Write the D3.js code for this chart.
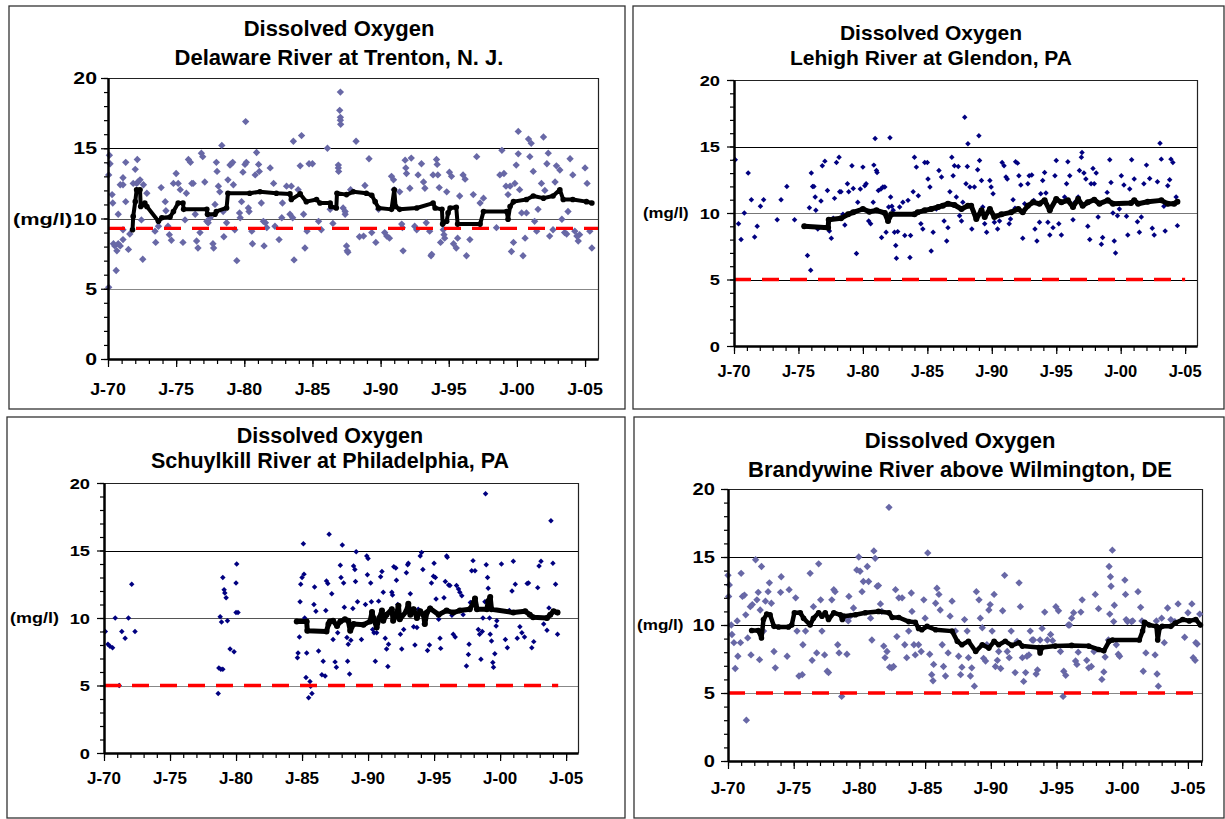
<!DOCTYPE html>
<html>
<head>
<meta charset="utf-8">
<script src="https://cdn.jsdelivr.net/npm/d3@7"></script>
<style>
  body { margin: 0; background: #fff; }
  svg { display: block; }
  text { font-family: "Liberation Sans", Arial, sans-serif; font-weight: bold; fill: #000; }
</style>
</head>
<body>
<svg width="1225" height="819"></svg>
<script>
// values: [decimal year, mg/l]
const trentonPts = [[1970.1,14.5],[1970.15,13.9],[1970.05,13.1],[1970.3,11.7],[1970.35,11.1],[1970.75,10.3],[1970.4,8.2],[1970.5,8.05],[1970.65,7.7],[1970.75,8.2],[1970.9,8.05],[1970.6,6.3],[1970.05,5.1],[1971.1,8.5],[1971.1,9.2],[1970.9,12.4],[1971.1,12.4],[1971.1,12.9],[1971.3,14.0],[1971.3,11.2],[1971.5,7.8],[1971.6,8.9],[1971.85,12.5],[1972.0,13.5],[1972.1,12.5],[1972.15,14.2],[1972.2,12.6],[1972.35,12.75],[1972.45,9.9],[1972.6,12.4],[1972.55,7.1],[1972.85,11.8],[1973.45,9.1],[1973.5,8.3],[1973.7,9.45],[1973.9,12.2],[1974.2,11.2],[1974.25,10.55],[1974.4,9.45],[1974.5,8.85],[1974.65,8.45],[1974.8,12.5],[1975.0,13.2],[1975.15,12.5],[1975.3,12.05],[1975.5,8.3],[1975.65,9.9],[1975.75,11.8],[1975.9,14.2],[1976.05,14.0],[1976.15,12.5],[1976.25,12.5],[1976.4,10.3],[1976.5,8.4],[1976.6,7.9],[1976.75,9.0],[1976.85,14.65],[1976.95,14.4],[1977.1,12.6],[1977.25,9.8],[1977.35,9.7],[1977.5,10.05],[1977.7,8.2],[1977.75,7.9],[1977.85,11.0],[1977.95,14.0],[1978.0,13.35],[1978.1,12.3],[1978.2,11.9],[1978.35,15.2],[1978.45,10.5],[1978.5,8.7],[1978.7,9.7],[1978.8,12.75],[1978.95,13.8],[1979.05,13.9],[1979.15,14.0],[1979.2,12.4],[1979.3,9.2],[1979.45,7.0],[1979.65,10.4],[1979.7,10.05],[1979.8,11.2],[1979.9,13.3],[1980.05,13.85],[1980.15,14.0],[1980.1,16.9],[1980.3,10.75],[1980.35,10.5],[1980.55,9.1],[1980.6,8.2],[1980.8,13.1],[1980.9,14.7],[1981.05,13.85],[1981.1,13.35],[1981.25,11.1],[1981.4,9.8],[1981.45,8.05],[1981.55,9.7],[1981.65,9.35],[1981.9,13.6],[1982.15,12.5],[1982.25,9.45],[1982.55,8.5],[1982.75,10.05],[1982.8,11.1],[1983.1,12.3],[1983.35,10.3],[1983.45,12.3],[1983.55,10.05],[1983.6,15.5],[1983.65,7.05],[1983.95,12.05],[1984.1,13.75],[1984.2,15.9],[1984.35,10.3],[1984.45,7.9],[1984.6,9.1],[1984.75,13.9],[1985.0,13.9],[1985.45,9.8],[1985.65,9.2],[1986.1,15.0],[1986.3,10.65],[1986.5,9.65],[1986.9,13.8],[1986.9,13.6],[1986.92,13.35],[1987.0,17.7],[1987.05,17.2],[1987.05,17.0],[1987.05,19.0],[1987.07,16.7],[1987.25,10.75],[1987.4,10.5],[1987.4,10.3],[1987.5,8.05],[1987.55,7.7],[1987.6,7.6],[1987.8,12.05],[1988.2,15.5],[1988.45,8.7],[1988.75,8.75],[1988.85,12.35],[1989.15,14.25],[1989.35,9.0],[1989.65,8.3],[1989.85,10.65],[1990.3,9.0],[1990.45,8.75],[1990.65,8.6],[1990.8,13.0],[1990.95,12.75],[1991.0,12.05],[1991.4,11.9],[1991.55,9.6],[1991.6,9.35],[1991.65,7.7],[1991.8,14.15],[1991.85,13.6],[1991.9,13.2],[1992.15,12.15],[1992.25,14.3],[1992.5,9.45],[1992.65,9.2],[1992.75,13.1],[1993.0,13.9],[1993.15,12.6],[1993.25,12.15],[1993.35,9.7],[1993.6,9.1],[1993.7,7.35],[1993.75,7.45],[1993.85,13.1],[1994.1,14.2],[1994.15,13.85],[1994.2,13.1],[1994.3,12.2],[1994.4,8.3],[1994.6,9.2],[1994.65,8.85],[1994.7,8.6],[1994.85,11.9],[1995.05,13.3],[1995.2,13.0],[1995.35,8.2],[1995.55,7.9],[1995.65,8.6],[1995.8,11.6],[1996.05,13.1],[1996.2,12.8],[1996.3,7.35],[1996.55,8.5],[1996.8,11.7],[1997.05,14.4],[1997.3,11.1],[1997.55,11.45],[1998.5,9.35],[1998.75,13.1],[1998.9,14.85],[1999.05,13.2],[1999.2,12.3],[1999.35,11.7],[1999.5,12.3],[1999.6,7.65],[1999.75,8.3],[1999.85,12.5],[1999.95,13.8],[2000.1,14.6],[2000.1,16.2],[2000.2,12.05],[2000.35,10.4],[2000.45,7.35],[2000.6,8.6],[2000.7,10.4],[2000.85,15.65],[2000.95,14.4],[2001.05,15.35],[2001.2,13.35],[2001.3,9.8],[2001.45,9.1],[2001.55,10.65],[2001.8,12.5],[2001.95,15.8],[2002.05,12.0],[2002.2,13.9],[2002.3,14.65],[2002.4,8.75],[2002.65,9.2],[2002.8,12.6],[2002.9,13.75],[2003.15,13.45],[2003.3,9.95],[2003.5,9.0],[2003.65,8.9],[2003.75,10.5],[2003.9,14.25],[2004.1,13.1],[2004.25,9.1],[2004.4,8.75],[2004.5,8.4],[2004.6,8.85],[2005.0,13.6],[2005.15,12.5],[2005.35,9.1],[2005.5,7.9]];

const trentonTrend = [[1971.8,9.2],[1971.85,10.15],[1972.0,11.2],[1972.1,12.05],[1972.35,12.05],[1972.4,10.85],[1972.55,11.0],[1972.7,11.1],[1972.85,10.85],[1973.7,9.8],[1973.95,10.05],[1974.55,10.1],[1974.8,10.5],[1975.15,11.1],[1975.5,11.1],[1975.55,10.65],[1977.25,10.65],[1977.3,10.3],[1977.85,10.3],[1977.95,10.5],[1978.7,10.75],[1978.8,11.8],[1980.4,11.8],[1981.15,11.9],[1982.35,11.8],[1983.35,11.75],[1983.45,11.35],[1984.1,11.75],[1984.55,11.2],[1985.3,11.35],[1985.55,11.1],[1986.3,11.1],[1986.35,10.85],[1986.75,10.75],[1986.8,11.8],[1987.5,11.7],[1988.0,11.9],[1988.95,11.8],[1989.35,11.65],[1989.6,11.2],[1989.85,10.75],[1990.8,10.65],[1991.0,12.05],[1991.1,10.85],[1991.4,10.65],[1992.65,10.75],[1993.85,11.1],[1994.0,10.75],[1994.5,10.65],[1994.55,9.6],[1994.85,9.8],[1994.95,10.4],[1995.1,10.75],[1995.55,10.8],[1995.65,9.6],[1997.3,9.6],[1997.55,10.5],[1999.25,10.5],[1999.35,9.95],[1999.5,10.85],[1999.75,11.2],[2000.7,11.35],[2001.2,11.6],[2001.95,11.45],[2002.65,11.6],[2003.15,12.05],[2003.4,11.35],[2004.1,11.35],[2005.1,11.2],[2005.5,11.1]];

const lehighPts = [[1970.1,14.0],[1970.35,9.2],[1970.55,8.0],[1970.8,10.0],[1971.1,13.0],[1971.35,11.0],[1971.6,8.2],[1971.8,9.0],[1972.05,10.5],[1972.3,11.0],[1973.35,9.5],[1973.65,11.0],[1974.1,12.0],[1974.7,9.5],[1975.7,6.8],[1975.85,10.4],[1975.95,5.7],[1976.0,13.0],[1976.1,12.0],[1976.2,12.0],[1976.3,11.2],[1976.35,10.2],[1976.5,8.8],[1976.75,10.9],[1976.85,13.55],[1977.05,13.9],[1977.25,11.7],[1977.4,8.65],[1977.55,8.1],[1977.7,9.6],[1977.8,11.1],[1977.95,13.8],[1978.15,14.2],[1978.2,11.6],[1978.3,11.6],[1978.45,9.9],[1978.6,9.1],[1978.8,12.2],[1978.9,11.6],[1979.15,13.55],[1979.25,11.85],[1979.5,6.95],[1979.6,10.8],[1979.8,11.8],[1980.0,13.45],[1980.15,12.05],[1980.25,12.2],[1980.45,9.4],[1980.6,9.2],[1980.8,10.8],[1980.85,13.6],[1980.95,15.6],[1981.05,13.2],[1981.1,13.05],[1981.2,11.7],[1981.4,11.8],[1981.45,8.15],[1981.55,11.95],[1981.7,11.95],[1981.8,8.55],[1982.0,10.45],[1982.1,15.65],[1982.15,11.2],[1982.25,10.5],[1982.35,10.2],[1982.45,8.55],[1982.55,7.55],[1982.6,6.6],[1982.7,8.6],[1982.85,10.45],[1983.1,10.8],[1983.25,8.3],[1983.5,10.95],[1983.65,6.65],[1983.7,8.3],[1983.9,11.6],[1984.0,14.2],[1984.15,13.45],[1984.3,11.3],[1984.5,9.2],[1984.65,8.8],[1984.8,13.8],[1985.0,13.8],[1985.05,12.55],[1985.2,11.95],[1985.3,7.15],[1985.45,8.55],[1985.7,10.3],[1985.9,13.2],[1986.1,12.7],[1986.3,9.4],[1986.5,7.9],[1986.6,8.9],[1986.75,11.6],[1986.9,14.2],[1987.0,12.8],[1987.1,13.55],[1987.25,11.2],[1987.4,13.5],[1987.5,9.8],[1987.65,9.4],[1987.75,10.8],[1987.9,17.2],[1988.0,12.2],[1988.1,13.5],[1988.15,15.2],[1988.3,11.95],[1988.45,8.8],[1988.65,11.95],[1988.9,13.25],[1989.0,15.8],[1989.05,13.95],[1989.2,12.45],[1989.3,10.45],[1989.45,9.2],[1989.6,8.55],[1989.85,12.45],[1989.95,11.95],[1990.1,11.45],[1990.2,9.3],[1990.45,8.8],[1990.6,9.4],[1990.8,13.8],[1990.95,13.55],[1991.1,12.7],[1991.2,12.55],[1991.35,9.2],[1991.45,9.55],[1991.65,11.0],[1991.8,10.35],[1991.85,13.85],[1992.0,13.75],[1992.1,12.8],[1992.25,12.1],[1992.4,8.1],[1992.55,10.7],[1992.8,12.2],[1992.9,12.8],[1993.1,12.85],[1993.25,10.95],[1993.35,8.8],[1993.5,7.9],[1993.7,9.3],[1993.8,11.45],[1993.95,12.45],[1994.1,13.05],[1994.2,11.5],[1994.35,9.3],[1994.5,8.35],[1994.75,8.9],[1994.9,12.8],[1995.0,13.95],[1995.2,9.2],[1995.4,8.35],[1995.65,11.2],[1995.8,12.2],[1995.9,13.85],[1996.05,12.8],[1996.3,9.5],[1996.45,10.8],[1996.7,11.2],[1996.8,13.2],[1996.95,14.2],[1997.0,14.55],[1997.15,13.0],[1997.3,12.55],[1997.45,9.0],[1997.6,8.0],[1997.7,12.2],[1997.85,13.35],[1997.95,12.2],[1998.1,13.0],[1998.25,9.7],[1998.5,7.65],[1998.6,8.15],[1998.95,11.55],[1999.15,14.0],[1999.25,12.3],[1999.4,10.0],[1999.5,7.9],[1999.6,7.0],[1999.75,9.8],[1999.9,10.3],[2000.05,12.8],[2000.25,12.1],[2000.45,9.75],[2000.55,8.35],[2000.7,11.8],[2000.85,14.0],[2001.05,12.55],[2001.3,9.35],[2001.45,8.55],[2001.6,9.7],[2001.8,12.2],[2002.0,13.6],[2002.25,12.6],[2002.45,8.85],[2002.6,8.35],[2002.85,12.35],[2003.05,15.25],[2003.15,14.05],[2003.35,10.5],[2003.45,8.65],[2003.65,12.05],[2003.8,12.5],[2003.9,14.05],[2004.05,13.8],[2004.3,11.2],[2004.4,9.05]];

const lehighTrend = [[1975.45,9.0],[1977.3,8.9],[1977.35,9.5],[1978.3,9.6],[1978.85,9.9],[1979.25,10.05],[1980.0,10.3],[1980.5,10.1],[1981.05,10.2],[1981.7,10.0],[1981.95,9.4],[1982.2,9.9],[1984.0,9.9],[1984.25,10.05],[1984.8,10.2],[1985.3,10.3],[1985.85,10.45],[1986.2,10.55],[1986.6,10.7],[1987.1,10.6],[1987.65,10.3],[1988.15,10.55],[1988.4,10.55],[1988.8,9.55],[1989.2,10.2],[1989.45,9.7],[1989.85,10.3],[1990.2,9.7],[1990.75,9.9],[1991.5,10.05],[1992.05,10.3],[1992.4,10.05],[1992.8,10.55],[1993.2,10.8],[1993.7,10.7],[1994.1,10.95],[1994.5,10.2],[1995.0,11.05],[1995.4,10.8],[1995.9,10.95],[1996.3,10.45],[1996.7,11.05],[1997.05,10.55],[1997.45,10.8],[1997.95,11.0],[1998.35,10.7],[1999.0,10.95],[1999.4,10.7],[2000.8,10.75],[2001.05,10.95],[2001.35,10.7],[2002.1,10.85],[2003.15,10.95],[2003.65,10.7],[2004.15,10.7],[2004.4,10.85]];

const schuylkillPts = [[1970.1,9.0],[1970.3,8.05],[1970.45,7.9],[1970.65,7.8],[1970.85,10.0],[1971.15,5.0],[1971.35,9.0],[1971.6,8.5],[1971.85,10.0],[1972.1,12.5],[1972.35,9.0],[1978.65,4.4],[1978.7,6.3],[1978.85,6.2],[1979.0,6.2],[1978.8,10.1],[1978.9,9.7],[1979.0,13.0],[1979.1,12.1],[1979.15,11.85],[1979.25,11.5],[1979.35,9.8],[1979.55,7.7],[1979.85,7.5],[1980.0,12.6],[1980.05,14.0],[1980.0,10.4],[1980.15,10.4],[1984.65,7.05],[1984.7,7.4],[1984.8,8.6],[1984.85,11.2],[1984.9,12.5],[1985.0,13.0],[1985.1,15.5],[1985.15,13.25],[1985.2,10.0],[1985.3,5.6],[1985.35,7.4],[1985.5,4.1],[1985.6,5.3],[1985.65,4.95],[1985.75,4.4],[1985.95,12.3],[1985.9,11.0],[1986.05,10.5],[1986.25,7.55],[1986.5,5.8],[1986.6,6.8],[1986.75,5.7],[1986.8,10.55],[1986.85,12.75],[1986.95,12.55],[1987.05,16.2],[1987.25,11.8],[1987.35,8.4],[1987.5,6.75],[1987.6,6.35],[1987.7,8.9],[1987.9,13.9],[1987.95,13.0],[1988.05,15.4],[1988.15,12.6],[1988.2,10.8],[1988.4,8.55],[1988.45,6.8],[1988.5,8.05],[1988.6,5.85],[1988.7,8.35],[1988.85,10.7],[1988.9,13.85],[1989.0,13.6],[1989.05,12.7],[1989.1,14.9],[1989.2,11.2],[1989.5,8.4],[1989.8,11.0],[1989.9,14.6],[1990.0,14.4],[1989.95,13.2],[1990.2,12.6],[1990.25,11.2],[1990.35,9.15],[1990.45,8.9],[1990.55,6.8],[1990.65,8.9],[1990.8,11.25],[1990.95,13.05],[1991.05,13.45],[1991.15,11.9],[1991.3,8.5],[1991.4,7.7],[1991.5,6.4],[1991.55,8.05],[1991.8,11.9],[1991.85,11.7],[1991.95,13.8],[1992.1,13.7],[1992.15,12.8],[1992.25,11.0],[1992.45,8.8],[1992.55,7.7],[1992.7,9.15],[1992.9,13.35],[1993.0,13.95],[1993.05,14.05],[1993.2,11.8],[1993.45,9.35],[1993.55,8.0],[1993.7,9.3],[1993.8,10.65],[1993.95,14.6],[1994.05,14.85],[1994.15,13.6],[1994.25,9.55],[1994.5,7.6],[1994.65,8.0],[1994.7,10.75],[1994.8,12.6],[1994.95,13.1],[1995.0,14.05],[1995.1,13.0],[1995.15,11.4],[1995.35,9.9],[1995.45,8.5],[1995.5,7.75],[1995.75,11.5],[1995.85,12.7],[1995.95,14.6],[1996.0,14.5],[1996.1,12.45],[1996.2,12.4],[1996.35,10.2],[1996.45,8.8],[1996.6,8.6],[1996.7,12.4],[1996.85,12.15],[1996.95,11.9],[1997.1,11.65],[1997.2,10.25],[1997.45,6.45],[1997.6,7.3],[1997.65,8.05],[1997.75,11.15],[1997.85,13.5],[1997.95,14.25],[1998.1,13.5],[1998.15,11.0],[1998.35,9.15],[1998.45,8.8],[1998.55,6.95],[1998.65,9.0],[1998.7,10.0],[1998.85,11.2],[1998.9,19.2],[1998.95,13.95],[1999.05,13.0],[1999.1,12.2],[1999.2,10.0],[1999.25,8.8],[1999.35,8.3],[1999.45,6.7],[1999.5,6.35],[1999.6,7.35],[1999.7,9.4],[1999.75,9.8],[2000.1,14.0],[2000.4,8.4],[2000.55,7.8],[2000.7,10.55],[2000.9,12.0],[2001.0,14.2],[2001.15,12.5],[2001.3,8.5],[2001.5,9.35],[2001.65,8.9],[2001.85,8.6],[2002.05,12.55],[2002.15,12.6],[2002.4,7.8],[2002.55,8.25],[2002.85,12.25],[2002.95,13.85],[2003.1,14.2],[2003.3,9.55],[2003.55,9.1],[2003.7,10.75],[2003.85,17.2],[2004.0,14.05],[2004.2,12.5],[2004.35,8.8]];

const schuylkillTrend = [[1984.6,9.75],[1985.35,9.75],[1985.4,9.05],[1986.85,9.0],[1987.0,9.55],[1987.1,9.75],[1987.35,9.8],[1987.65,9.4],[1987.9,9.75],[1988.25,9.9],[1988.5,9.8],[1988.65,9.05],[1988.9,9.55],[1989.65,9.5],[1990.15,9.75],[1990.3,10.45],[1990.4,10.0],[1990.65,9.3],[1990.85,10.0],[1991.05,10.55],[1991.15,9.8],[1991.4,10.25],[1991.8,10.65],[1991.9,9.8],[1992.15,10.25],[1992.3,10.9],[1992.4,9.9],[1992.9,10.5],[1993.05,11.05],[1993.2,10.25],[1993.45,10.65],[1993.7,10.0],[1993.95,10.5],[1994.2,10.25],[1994.3,9.55],[1994.45,10.4],[1994.7,10.7],[1995.35,10.25],[1995.95,10.55],[1996.45,10.4],[1996.95,10.55],[1997.7,10.65],[1998.0,11.15],[1998.1,11.45],[1998.25,10.65],[1999.0,10.65],[1999.1,11.25],[1999.25,11.55],[1999.35,10.65],[2001.0,10.4],[2001.9,10.5],[2002.25,10.25],[2002.5,10.05],[2003.55,10.0],[2003.8,10.25],[2004.05,10.5],[2004.35,10.4]];

const brandywinePts = [[1970.0,13.65],[1970.1,12.95],[1970.05,12.1],[1970.25,10.0],[1970.3,9.3],[1970.45,8.7],[1970.55,6.8],[1970.7,10.3],[1970.75,7.7],[1970.95,8.7],[1971.0,13.8],[1971.1,12.1],[1971.25,12.2],[1971.35,10.75],[1971.4,3.0],[1971.5,9.05],[1971.7,11.35],[1971.75,7.8],[1971.85,11.5],[1972.1,14.8],[1972.2,11.85],[1972.3,12.4],[1972.4,7.45],[1972.45,11.1],[1972.55,14.3],[1972.7,9.55],[1972.85,11.75],[1973.05,12.45],[1973.15,13.1],[1973.3,11.6],[1973.5,8.05],[1973.6,6.85],[1974.0,12.4],[1974.05,13.55],[1974.5,7.7],[1974.65,12.6],[1975.15,12.0],[1975.25,9.55],[1975.4,6.25],[1975.65,6.35],[1975.7,8.55],[1975.9,9.55],[1976.25,13.8],[1976.4,7.4],[1976.5,11.35],[1976.75,7.95],[1976.9,14.5],[1977.05,11.85],[1977.15,9.55],[1977.35,7.8],[1977.55,6.6],[1977.65,6.5],[1977.9,11.85],[1978.05,12.6],[1978.15,12.45],[1978.35,8.55],[1978.45,7.95],[1978.65,4.75],[1978.8,10.5],[1979.05,7.85],[1979.15,10.3],[1979.2,12.1],[1979.3,10.65],[1979.55,11.25],[1979.8,14.05],[1979.95,15.0],[1980.05,13.95],[1980.2,12.45],[1980.3,13.2],[1980.6,14.3],[1980.7,13.2],[1980.85,10.5],[1980.95,8.9],[1981.1,15.45],[1981.2,14.9],[1981.35,12.85],[1981.45,12.9],[1981.6,11.55],[1981.7,11.0],[1981.85,8.45],[1981.95,7.6],[1982.1,8.05],[1982.25,18.65],[1982.3,6.9],[1982.45,6.85],[1982.6,6.95],[1982.75,12.6],[1982.85,9.15],[1983.0,12.0],[1983.25,12.0],[1983.45,8.55],[1983.6,7.6],[1983.75,9.55],[1983.95,12.35],[1984.0,11.0],[1984.15,8.55],[1984.25,7.8],[1984.5,8.55],[1984.7,8.05],[1984.9,11.85],[1985.0,10.5],[1985.2,15.3],[1985.35,7.85],[1985.5,6.35],[1985.6,5.9],[1985.65,7.1],[1985.8,11.6],[1985.9,12.7],[1986.05,12.25],[1986.15,11.1],[1986.3,8.55],[1986.4,6.95],[1986.55,6.25],[1986.75,7.95],[1986.9,10.65],[1987.05,11.75],[1987.3,9.55],[1987.55,7.7],[1987.7,6.35],[1987.8,6.9],[1988.0,10.4],[1988.2,9.55],[1988.3,7.6],[1988.45,6.25],[1988.55,6.85],[1988.75,5.5],[1988.9,12.45],[1989.1,11.85],[1989.2,10.5],[1989.35,9.8],[1989.45,7.55],[1989.6,7.35],[1989.7,8.55],[1989.85,11.1],[1989.95,11.5],[1990.1,9.55],[1990.25,12.25],[1990.35,6.95],[1990.5,7.4],[1990.6,8.05],[1990.75,6.8],[1990.9,11.05],[1991.05,13.65],[1991.25,8.05],[1991.4,7.6],[1991.55,9.55],[1991.85,6.5],[1992.0,8.8],[1992.15,13.1],[1992.25,11.35],[1992.4,7.6],[1992.5,5.85],[1992.65,6.5],[1992.75,7.7],[1992.9,7.8],[1993.0,9.55],[1993.15,8.9],[1993.25,8.9],[1993.45,6.4],[1993.55,6.7],[1993.75,8.9],[1993.9,9.75],[1994.1,10.95],[1994.3,8.9],[1994.55,9.3],[1994.7,8.85],[1994.95,11.35],[1995.15,11.05],[1995.3,8.05],[1995.5,4.75],[1995.55,6.6],[1995.7,6.3],[1995.9,10.0],[1996.0,10.0],[1996.15,10.5],[1996.3,10.9],[1996.45,7.35],[1996.55,7.1],[1996.65,8.0],[1996.85,10.95],[1996.95,11.85],[1997.3,7.4],[1997.45,6.85],[1997.65,6.95],[1997.85,8.05],[1997.95,12.25],[1998.2,11.2],[1998.45,6.0],[1998.6,6.55],[1998.7,7.65],[1998.95,8.9],[1999.0,14.3],[1999.1,13.55],[1999.15,12.85],[1999.25,15.5],[1999.05,10.8],[1999.35,10.25],[1999.4,11.45],[1999.55,8.55],[1999.7,7.85],[1999.8,7.7],[2000.2,13.3],[2000.25,12.25],[2000.3,10.4],[2000.4,10.25],[2000.7,10.25],[2000.8,10.3],[2001.2,12.45],[2001.4,11.3],[2001.5,10.3],[2001.6,6.6],[2001.8,7.95],[2002.5,7.8],[2002.6,10.3],[2002.65,6.4],[2002.75,5.5],[2003.0,10.5],[2003.2,8.7],[2003.45,11.25],[2003.7,10.4],[2004.0,10.25],[2004.25,11.55],[2004.75,9.1],[2005.0,10.9],[2005.3,11.55],[2005.4,7.6],[2005.55,7.4],[2005.6,8.7],[2005.7,8.6],[2005.9,10.8]];

const brandywineTrend = [[1971.8,9.6],[1972.3,9.6],[1972.55,9.05],[1972.7,10.4],[1972.95,10.8],[1973.2,10.75],[1973.5,9.9],[1973.85,9.85],[1974.6,9.85],[1974.85,10.0],[1975.05,10.9],[1975.5,10.9],[1975.75,10.5],[1976.25,10.0],[1976.5,10.5],[1976.9,10.9],[1977.15,10.65],[1977.4,10.9],[1977.65,10.4],[1978.05,10.9],[1978.55,10.75],[1978.7,10.4],[1978.8,10.65],[1979.7,10.75],[1980.45,10.9],[1981.45,11.0],[1982.25,10.9],[1982.5,10.55],[1983.0,10.55],[1983.75,10.25],[1984.25,10.2],[1984.5,9.75],[1984.75,9.65],[1985.15,9.9],[1985.8,9.65],[1987.05,9.55],[1987.45,8.8],[1987.8,8.55],[1988.3,8.8],[1988.85,8.05],[1989.35,8.55],[1989.85,8.3],[1990.25,8.8],[1990.6,8.55],[1991.1,8.8],[1991.6,8.5],[1992.15,8.7],[1992.4,8.45],[1993.65,8.35],[1993.75,7.95],[1993.9,8.35],[1994.9,8.45],[1996.15,8.5],[1997.45,8.45],[1998.2,8.2],[1998.6,8.1],[1999.0,8.8],[1999.25,8.9],[2001.3,8.9],[2001.55,9.55],[2001.7,10.2],[2002.05,10.0],[2002.6,9.9],[2002.7,8.9],[2002.85,9.8],[2003.05,9.9],[2003.7,9.9],[2004.05,10.15],[2004.6,10.4],[2005.1,10.3],[2005.6,10.4],[2005.95,10.0]];

const stdLevels = [9.3, 5, 5, 5];
const yTicks = [0, 5, 10, 15, 20];
const xTickYears = [1970, 1975, 1980, 1985, 1990, 1995, 2000, 2005];
const xTickLabels = ['J-70', 'J-75', 'J-80', 'J-85', 'J-90', 'J-95', 'J-00', 'J-05'];
const titleLine = 'Dissolved Oxygen';
const siteNames = ['Delaware River at Trenton, N. J.', 'Lehigh River at Glendon, PA',
                   'Schuylkill River at Philadelphia, PA', 'Brandywine River above Wilmington, DE'];

const svg = d3.select('svg');

const slate = '#6868a6', navy = '#000080';

const panels = [
  { pts: trentonPts, trend: trentonTrend, frame: [9, 6, 616, 403],
    l: 108, t: 78, r: 598, b: 359, xMax: 2005.95, stdEnd: 2005.95,
    tx: 339, t1: 36, t2: 65, tSize: 22, dot: slate, area: 27, lw: 4, mr: 2.8,
    yl: { size: 17, sx: 1.25, right: 97 }, mg: { x: 13, size: 17, sx: 1.28 },
    xl: { size: 16.5, sx: 1.08, y: 389 }, grid: ['#888', '#555', '#000'] },
  { pts: lehighPts, trend: lehighTrend, frame: [633, 6, 591, 403],
    l: 734, t: 80, r: 1197, b: 346, xMax: 2005.92, stdEnd: 2005.0,
    tx: 931, t1: 40, t2: 65, tSize: 21, dot: navy, area: 15, lw: 5, mr: 3,
    yl: { size: 15.5, sx: 1.18, right: 720 }, mg: { x: 643, size: 14, sx: 1.2 },
    xl: { size: 16, sx: 1.03, y: 371 }, grid: ['#000', '#777', '#000'] },
  { pts: schuylkillPts, trend: schuylkillTrend, frame: [7, 417, 618, 401],
    l: 104, t: 483, r: 578, b: 753, xMax: 2005.9, stdEnd: 2004.4,
    tx: 330, t1: 443, t2: 468, tSize: 21.5, dot: navy, area: 15, lw: 5, mr: 3,
    yl: { size: 15.5, sx: 1.18, right: 90 }, mg: { x: 10, size: 14.5, sx: 1.24 },
    xl: { size: 17, sx: 1.0, y: 778 }, grid: ['#888', '#555', '#000'] },
  { pts: brandywinePts, trend: brandywineTrend, frame: [634, 417, 590, 401],
    l: 728, t: 489, r: 1202, b: 761, xMax: 2006.07, stdEnd: 2006.07,
    tx: 960, t1: 448, t2: 477, tSize: 22, dot: slate, area: 27, lw: 4.5, mr: 2.8,
    yl: { size: 16.5, sx: 1.22, right: 715 }, mg: { x: 637, size: 14.5, sx: 1.18 },
    xl: { size: 16.5, sx: 1.05, y: 788 }, grid: ['#888', '#000', '#000'] }
];

function label(g, x, y, s, size, anchor, sx) {
  g.append('text')
    .attr('transform', `translate(${x},${y}) scale(${sx},1)`)
    .attr('text-anchor', anchor)
    .attr('dy', '0.36em')
    .style('font-size', size + 'px')
    .text(s);
}

panels.forEach((p, i) => {
  const g = svg.append('g');
  const x = d3.scaleLinear().domain([1970, p.xMax]).range([p.l, p.r]);
  const y = d3.scaleLinear().domain([0, 20]).range([p.b, p.t]);

  // panel frame
  g.append('rect')
    .attr('x', p.frame[0]).attr('y', p.frame[1])
    .attr('width', p.frame[2]).attr('height', p.frame[3])
    .attr('fill', 'none').attr('stroke', '#333').attr('stroke-width', 1.3);

  // titles
  g.append('text').attr('x', p.tx).attr('y', p.t1).attr('text-anchor', 'middle')
    .style('font-size', p.tSize + 'px').text(titleLine);
  g.append('text').attr('x', p.tx).attr('y', p.t2).attr('text-anchor', 'middle')
    .style('font-size', p.tSize + 'px').text(siteNames[i]);

  // gridlines at 5, 10, 15
  [5, 10, 15].forEach((v, k) => {
    g.append('line')
      .attr('x1', p.l).attr('x2', p.r)
      .attr('y1', Math.round(y(v)) + 0.5).attr('y2', Math.round(y(v)) + 0.5)
      .attr('stroke', p.grid[k]).attr('stroke-width', 1);
  });
  // plot box top and right
  g.append('path')
    .attr('d', `M${p.l},${p.t + 0.5}H${p.r + 0.5}V${p.b}`)
    .attr('fill', 'none').attr('stroke', '#222').attr('stroke-width', 1.2);

  // scatter of samples
  const diamond = d3.symbol().type(d3.symbolSquare).size(p.area);
  g.append('g').selectAll('path')
    .data(p.pts)
    .join('path')
    .attr('d', diamond)
    .attr('transform', d => `translate(${x(d[0])},${y(d[1])}) rotate(45)`)
    .attr('fill', p.dot);

  // standard (red dashed)
  g.append('line')
    .attr('x1', x(1970)).attr('x2', x(p.stdEnd))
    .attr('y1', y(stdLevels[i])).attr('y2', y(stdLevels[i]))
    .attr('stroke', '#ff0000').attr('stroke-width', 3.4)
    .attr('stroke-dasharray', '17,11');

  // running median line
  const line = d3.line().x(d => x(d[0])).y(d => y(d[1]));
  g.append('path').datum(p.trend)
    .attr('d', line)
    .attr('fill', 'none').attr('stroke', '#000')
    .attr('stroke-width', p.lw).attr('stroke-linejoin', 'round').attr('stroke-linecap', 'round');
  g.append('g').selectAll('circle')
    .data(p.trend)
    .join('circle')
    .attr('cx', d => x(d[0])).attr('cy', d => y(d[1]))
    .attr('r', p.mr).attr('fill', '#000');

  // axes
  const yMinor = d3.axisLeft(y).tickValues(d3.range(0, 21, 1)).tickSize(4).tickSizeOuter(0).tickFormat('');
  const yMajor = d3.axisLeft(y).tickValues(yTicks).tickSize(7).tickSizeOuter(0).tickFormat('');
  const xMinor = d3.axisBottom(x).tickValues(d3.range(1970, p.xMax, 1)).tickSize(5).tickSizeOuter(0).tickFormat('');
  const xMajor = d3.axisBottom(x).tickValues(xTickYears).tickSize(8).tickSizeOuter(0).tickFormat('');

  [yMinor, yMajor].forEach(ax => {
    g.append('g').attr('transform', `translate(${p.l},0)`).call(ax)
      .call(s => s.select('.domain').attr('stroke', '#000').attr('stroke-width', 2))
      .call(s => s.selectAll('.tick line').attr('stroke', '#000').attr('stroke-width', 1.2));
  });
  [xMinor, xMajor].forEach(ax => {
    g.append('g').attr('transform', `translate(0,${p.b})`).call(ax)
      .call(s => s.select('.domain').attr('stroke', '#000').attr('stroke-width', 2))
      .call(s => s.selectAll('.tick line').attr('stroke', '#000').attr('stroke-width', 1.2));
  });

  // tick labels
  yTicks.forEach(v => label(g, p.yl.right, y(v), String(v), p.yl.size, 'end', p.yl.sx));
  xTickYears.forEach((v, k) => label(g, x(v), p.xl.y, xTickLabels[k], p.xl.size, 'middle', p.xl.sx));
  label(g, p.mg.x, y(10), '(mg/l)', p.mg.size, 'start', p.mg.sx);
});
</script>
</body>
</html>
